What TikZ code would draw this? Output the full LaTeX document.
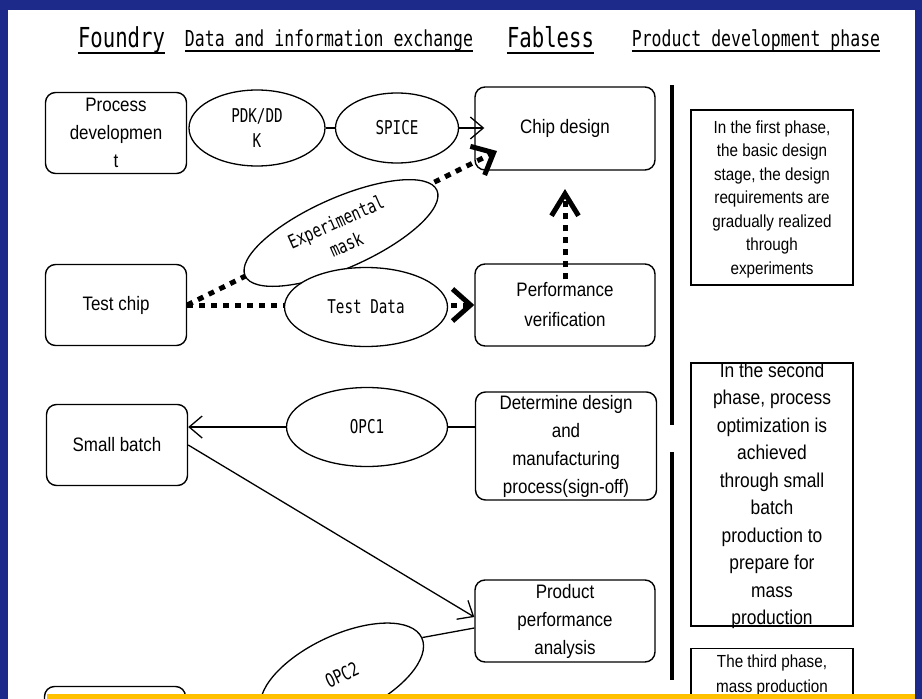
\documentclass[tikz,border=0pt]{standalone}
\usepackage{fontspec}
\setmainfont{Liberation Sans}[FakeStretch=0.87]
\newfontfamily\gothic{DejaVu Sans Mono}[FakeStretch=0.75]
\usetikzlibrary{shapes.geometric,arrows.meta}
\pgfdeclarelayer{edges}
\pgfsetlayers{edges,main}
\definecolor{frameblue}{RGB}{30,42,138}
\definecolor{bannergold}{RGB}{255,192,0}

\begin{document}
\begin{tikzpicture}[x=1pt,y=-1pt,
  box/.style={draw, rounded corners=10pt, line width=1.4pt, minimum width=141pt,
    minimum height=81pt, align=center, inner sep=0pt, font=\fontsize{19.5}{28}\selectfont},
  oval/.style={draw, fill=white, ellipse, line width=1.3pt, inner sep=0pt, align=center,
    font=\gothic\fontsize{19}{25}\selectfont},
  phase/.style={draw, line width=1.4pt, minimum width=162pt, inner sep=0pt},
  phasetext/.style={align=center, inner sep=0pt},
  hdrbig/.style={inner sep=0pt, font=\gothic\fontsize{27.5}{30}\selectfont},
  hdrsmall/.style={inner sep=0pt, font=\gothic\fontsize{22}{24}\selectfont},
  hline/.style={line width=2pt},
  link/.style={line width=1.3pt},
  thinarrow/.style={link, -{Straight Barb[length=13pt,width=22pt]}},
  dotarrow/.style={line width=5pt, dash pattern=on 6pt off 6pt,
    -{Straight Barb[length=18pt,width=32pt]}},
  divider/.style={line width=3.5pt}]

\useasboundingbox (0,0) rectangle (922,699);

% frame
\begin{pgfonlayer}{edges}
  \fill[frameblue] (0,0) rectangle (922,699);
  \fill[white] (8,10) rectangle (915,699);
\end{pgfonlayer}

% column headings
\node[hdrbig, anchor=base] (hfoundry) at (121.5,47) {Foundry};
\node[hdrsmall, anchor=base] (hdata) at (329,46) {Data and information exchange};
\node[hdrbig, anchor=base] (hfabless) at (550.5,47) {Fabless};
\node[hdrsmall, anchor=base] (hphase) at (756,46) {Product development phase};
\draw[hline] ([yshift=-6pt]hfoundry.base west) -- ([yshift=-6pt]hfoundry.base east);
\draw[hline] ([yshift=-5pt]hdata.base west) -- ([yshift=-5pt]hdata.base east);
\draw[hline] ([yshift=-6pt]hfabless.base west) -- ([yshift=-6pt]hfabless.base east);
\draw[hline] ([yshift=-5pt]hphase.base west) -- ([yshift=-5pt]hphase.base east);

% foundry side
\node[box] (proc) at (116,133) {Process\\developmen\\t};
\node[box] (test) at (116,305) {Test chip};
\node[box] (small) at (117,445) {Small batch};
\node[box] (tail) at (115,727) {};

% fabless side
\node[box, minimum width=180pt, minimum height=83pt] (chip) at (565,128.5) {Chip design};
\node[box, minimum width=180pt, minimum height=82pt, font=\fontsize{19.5}{30}\selectfont]
  (perf) at (565,305) {Performance\\verification};
\node[box, minimum width=181pt, minimum height=108pt] (det) at (566,446)
  {Determine design\\and\\manufacturing\\process(sign-off)};
\node[box, minimum width=180pt, minimum height=82pt] (prod) at (565,621)
  {Product\\performance\\analysis};

% exchanged data
\node[oval, minimum width=136pt, minimum height=76pt] (pdk) at (257,128) {PDK/DD\\K};
\node[oval, minimum width=123pt, minimum height=70pt] (spice) at (397,128) {SPICE};
\node[oval, minimum width=210pt, minimum height=70pt, rotate=24] (mask) at (341,233)
  {Experimental\\mask};
\node[oval, minimum width=163pt, minimum height=79pt] (tdata) at (366,307) {Test Data};
\node[oval, minimum width=161pt, minimum height=79pt] (opc1) at (367,427) {OPC1};
\node[oval, minimum width=176pt, minimum height=80pt, rotate=25] (opc2) at (342,675) {OPC2};

% phase descriptions
\node[phase, minimum height=175pt] (ph1) at (772,197.5) {};
\node[phasetext, font=\fontsize{17.5}{23.5}\selectfont] (ph1t) at (772,199)
  {In the first phase,\\the basic design\\stage, the design\\requirements are\\gradually realized\\through\\experiments};
\node[phase, minimum height=263pt] (ph2) at (772,494.5) {};
\node[phasetext, font=\fontsize{20}{27.5}\selectfont] (ph2t) at (772,496)
  {In the second\\phase, process\\optimization is\\achieved\\through small\\batch\\production to\\prepare for\\mass\\production};
\node[phase, minimum height=120pt, anchor=north] (ph3) at (772,648) {};
\node[phasetext, font=\fontsize{17.5}{25}\selectfont, anchor=north] (ph3t) at (772,655)
  {The third phase,\\mass production};

% phase dividers
\draw[divider] (672,85) -- (672,425);
\draw[divider] (672,452) -- (672,680);

% connectors
\coordinate (maskend) at (497,151);
\coordinate (perftip) at (565,189);
\begin{pgfonlayer}{edges}
  \draw[link] (pdk) -- (spice);
  \draw[thinarrow] (spice.east) -- ([xshift=10pt]spice.east -| chip.west);
  \draw[dotarrow] (test.east) -- (maskend);
  \draw[dotarrow] (test.east) -- (perf.west);
  \draw[dotarrow, -{Straight Barb[length=22pt,width=27pt]}]
    ([yshift=-16pt]perf.north) -- (perftip);
  \draw[thinarrow] (opc1.west) -- (opc1.west -| small.east);
  \draw[link] (opc1.east) -- (opc1.east -| det.west);
  \draw[thinarrow] (small.east) -- ([yshift=4pt]prod.west);
  \draw[link] (opc2.east) -- ([yshift=-7pt]prod.west);
\end{pgfonlayer}

% banner strip along the bottom
\fill[bannergold] (47,694) rectangle (915,699);
\end{tikzpicture}
\end{document}
